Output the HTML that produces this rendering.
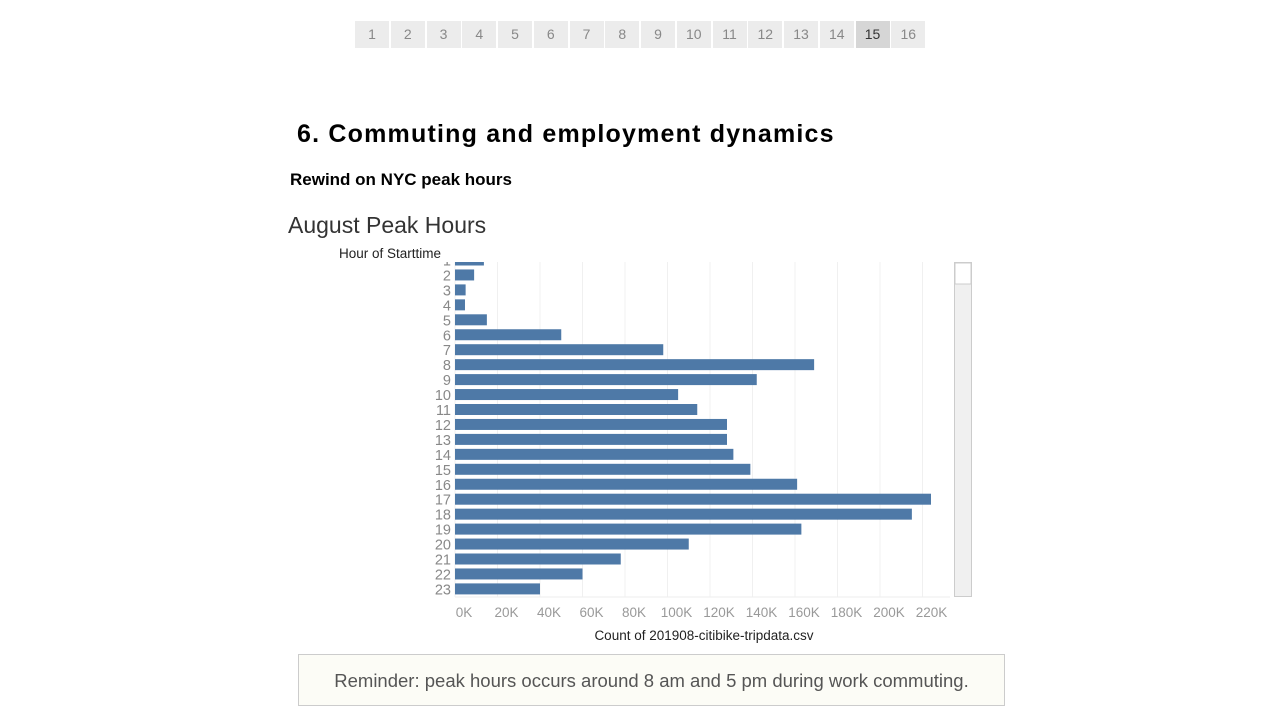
<!DOCTYPE html>
<html><head><meta charset="utf-8"><style>
body{margin:0;width:1280px;height:720px;background:#fff;font-family:"Liberation Sans",sans-serif;position:relative;overflow:hidden}
.pg{position:absolute;top:21px;left:355px;display:flex}
.pg div{width:34px;height:27px;margin-right:1.75px;background:#ececec;color:#888;font-size:14px;line-height:27px;text-align:center}
.pg div.act{background:#d6d6d6;color:#333}
h1{position:absolute;left:297px;top:120px;margin:0;font-size:25px;letter-spacing:1.2px;font-weight:bold;color:#000}
h2{position:absolute;left:290px;top:170px;margin:0;font-size:17px;font-weight:bold;color:#000}
.ct{position:absolute;left:288px;top:212px;font-size:23px;color:#333}
.note{position:absolute;left:298px;top:654px;width:705px;height:50px;border:1px solid #ccc;background:#fcfcf6;color:#555;font-size:18.5px;line-height:52px;text-align:center}
</style></head><body>
<div class="pg">
<div>1</div><div>2</div><div>3</div><div>4</div><div>5</div><div>6</div><div>7</div><div>8</div><div>9</div><div>10</div><div>11</div><div>12</div><div>13</div><div>14</div><div class="act">15</div><div>16</div>
</div>
<h1>6. Commuting and employment dynamics</h1>
<h2>Rewind on NYC peak hours</h2>
<div class="ct">August Peak Hours</div>
<svg id="ch" width="1280" height="720" style="position:absolute;left:0;top:0"></svg>
<div class="note">Reminder: peak hours occurs around 8 am and 5 pm during work commuting.</div>
<script>
const hours=["1","2","3","4","5","6","7","8","9","10","11","12","13","14","15","16","17","18","19","20","21","22","23"];
const counts=[13600,9000,5000,4700,15000,50000,98000,169000,142000,105000,114000,128000,128000,131000,139000,161000,224000,215000,163000,110000,78000,60000,40000];
const ticks=[0,20000,40000,60000,80000,100000,120000,140000,160000,180000,200000,220000];
const tickLabels=["0K","20K","40K","60K","80K","100K","120K","140K","160K","180K","200K","220K"];
const NS="http://www.w3.org/2000/svg",svg=document.getElementById('ch');
const x0=455,pxPerK=2.125,yTop=262,yBot=597,row0=260,pitch=14.95;
const xs=v=>x0+v/1000*pxPerK, ys=i=>row0+i*pitch;
function mk(t,a,txt){const e=document.createElementNS(NS,t);for(const k in a)e.setAttribute(k,a[k]);if(txt!=null)e.textContent=txt;svg.appendChild(e);return e;}
const cp=mk('clipPath',{id:'cl'});const r=document.createElementNS(NS,'rect');r.setAttribute('x',300);r.setAttribute('y',yTop);r.setAttribute('width',660);r.setAttribute('height',yBot-yTop);cp.appendChild(r);
const cp2=mk('clipPath',{id:'cl2'});const r2=document.createElementNS(NS,'rect');r2.setAttribute('x',300);r2.setAttribute('y',yTop);r2.setAttribute('width',200);r2.setAttribute('height',yBot-yTop+5);cp2.appendChild(r2);
ticks.forEach((t,i)=>{
const g=mk('line',{x1:xs(t),x2:xs(t),y1:yTop,y2:yBot,stroke:'#f0f0f0'});


const l=mk('text',{x:xs(t)+9,y:617,'text-anchor':'middle','font-size':13.5,fill:'#999','font-family':'Liberation Sans, sans-serif'},tickLabels[i]);


});
mk('line',{x1:x0,x2:950,y1:yBot,y2:yBot,stroke:'#eee'});
hours.forEach((h,i)=>{
const b=mk('rect',{x:x0,y:ys(i)-5.5,width:xs(counts[i])-x0,height:11,fill:'#4e79a7','clip-path':'url(#cl)'});


const l=mk('text',{x:451,y:ys(i)+5.5,'text-anchor':'end','font-size':14.5,fill:'#888','font-family':'Liberation Sans, sans-serif','clip-path':'url(#cl2)'},h);


});
const yt=mk('text',{x:339,y:258,'font-size':13.5,fill:'#222','font-family':'Liberation Sans, sans-serif'},'Hour of Starttime');


const xt=mk('text',{x:704,y:640,'text-anchor':'middle','font-size':13.5,fill:'#222','font-family':'Liberation Sans, sans-serif'},'Count of 201908-citibike-tripdata.csv');


const sb=mk('rect',{x:954.5,y:262.5,width:17,height:334,fill:'#f0f0f0',stroke:'#ccc'});


const th=mk('rect',{x:955,y:263,width:16,height:21,fill:'#fff',stroke:'#ccc'});


</script>
</body></html>
